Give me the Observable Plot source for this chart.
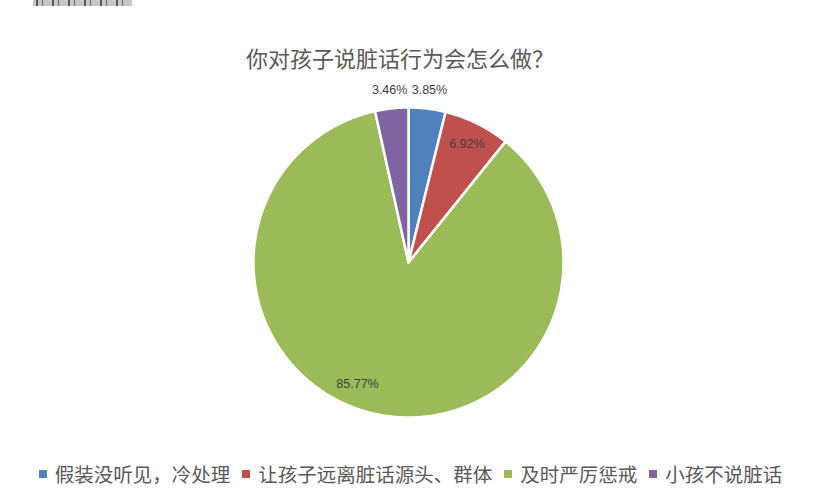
<!DOCTYPE html>
<html>
<head>
<meta charset="utf-8">
<script src="https://cdn.jsdelivr.net/npm/d3@7"></script>
<script src="https://cdn.jsdelivr.net/npm/@observablehq/plot@0.6"></script>
<style>
  html, body { margin: 0; padding: 0; background: #fff; width: 813px; height: 504px; overflow: hidden; }
  body { position: relative; font-family: "Noto Sans CJK SC", "Noto Sans", sans-serif; }
  #topbar { position: absolute; left: 33px; top: 0; width: 99px; height: 6px;
    background: repeating-linear-gradient(90deg, #c8c8c8 0 3px, #555 3px 5px, #c8c8c8 5px 9px, #666 9px 10px, #c8c8c8 10px 16px); }
  #title { height: 76px; box-sizing: border-box; padding-top: 42px; padding-right: 13px; line-height: 30px; font-size: 22px; color: #595959; text-align: center; }
  #chart svg { display: block; }
  #legend { height: 52px; line-height: 36px; text-align: center; padding-left: 8px; font-size: 19.5px; color: #595959; white-space: nowrap; }
  #legend .item { display: inline-flex; align-items: center; margin-left: 12px; }
  #legend .item:first-child { margin-left: 0; }
  #legend .sw { width: 8px; height: 8px; margin-right: 8px; display: inline-block; }
</style>
</head>
<body>
<div id="topbar"></div>
<div id="title"></div>
<div id="chart"></div>
<div id="legend"></div>
<script>
// ---- data ----
const title = "你对孩子说脏话行为会怎么做？";
const categories = ["假装没听见，冷处理", "让孩子远离脏话源头、群体", "及时严厉惩戒", "小孩不说脏话"];
const values = [3.85, 6.92, 85.77, 3.46];
const labels = ["3.85%", "6.92%", "85.77%", "3.46%"];
const colors = ["#4F81BD", "#C0504D", "#9BBB59", "#8064A2"];

// ---- layout ----
const W = 813, H = 376, cx = 408, cy = 186, R = 155;

document.getElementById("title").textContent = title;

const arcs = d3.pie().sort(null).value(d => d.value)(
  categories.map((c, i) => ({cat: c, value: values[i], label: labels[i]}))
);

// polygon points for each slice (unit circle coordinates)
const pts = [];
arcs.forEach(a => {
  const c = a.data.cat;
  pts.push({cat: c, x: 0, y: 0});
  const n = Math.max(4, Math.ceil((a.endAngle - a.startAngle) / 0.01));
  for (let k = 0; k <= n; k++) {
    const t = a.startAngle + (a.endAngle - a.startAngle) * k / n;
    pts.push({cat: c, x: Math.sin(t), y: Math.cos(t)});
  }
  pts.push({cat: c, x: 0, y: 0});
});

// label positions: small slices outside, bigger ones inside
const lab = arcs.map(a => {
  const share = a.data.value / d3.sum(values);
  const m = (a.startAngle + a.endAngle) / 2;
  const rr = share < 0.05 ? 1.12 : 0.85;
  return {cat: a.data.cat, label: a.data.label, big: share > 0.5, x: rr * Math.sin(m), y: rr * Math.cos(m)};
});

const chart = Plot.plot({
  width: W,
  height: H,
  margin: 0,
  x: {domain: [-cx / R, (W - cx) / R], axis: null},
  y: {domain: [-(H - cy) / R, cy / R], axis: null},
  color: {domain: categories, range: colors},
  marks: [
    Plot.line(pts, {x: "x", y: "y", z: "cat", fill: "cat", stroke: "white", strokeWidth: 2.5, strokeLinejoin: "round", curve: "linear"}),
    Plot.text(lab.filter(d => !d.big), {x: "x", y: "y", text: "label", fill: "#404040", fontSize: 12.5, fontFamily: "Liberation Sans, Arial, sans-serif"}),
    Plot.text(lab.filter(d => d.big), {x: "x", y: "y", text: "label", fill: "#404040", fontSize: 12.5, dx: -21, dy: -7, fontFamily: "Liberation Sans, Arial, sans-serif"})
  ]
});
document.getElementById("chart").append(chart);

const leg = document.getElementById("legend");
categories.forEach((c, i) => {
  const it = document.createElement("span");
  it.className = "item";
  const sw = document.createElement("span");
  sw.className = "sw";
  sw.style.background = colors[i];
  it.append(sw, document.createTextNode(c));
  leg.append(it);
});
</script>
</body>
</html>
